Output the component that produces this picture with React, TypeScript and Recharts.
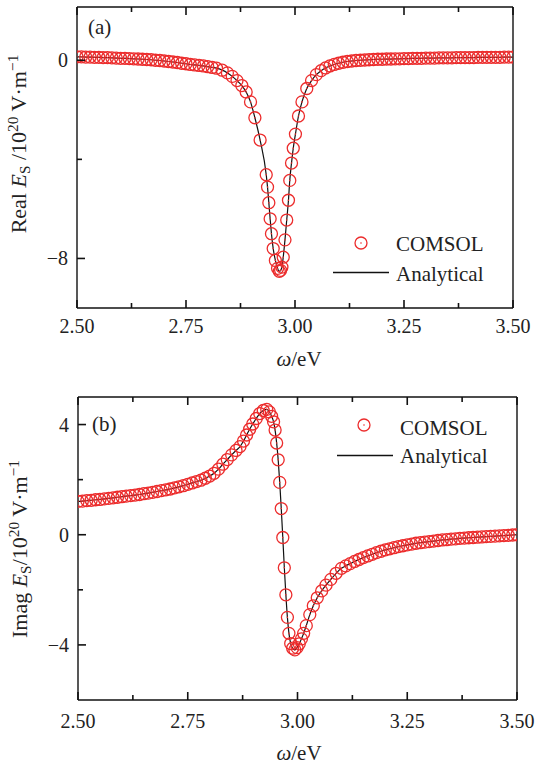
import React from "react";
import { ComposedChart, Line, Scatter, XAxis, YAxis } from "recharts";

// panel (a): real part
const omegaA = [
  2.5, 2.51, 2.52, 2.53, 2.54, 2.55, 2.56, 2.57, 2.58, 2.59, 2.6, 2.61, 2.62, 2.63, 2.64, 2.65, 2.66,
  2.67, 2.68, 2.69, 2.7, 2.71, 2.72, 2.73, 2.74, 2.75, 2.76, 2.77, 2.78, 2.79, 2.8, 2.81, 2.82,
  2.833, 2.845, 2.856, 2.867, 2.878, 2.888, 2.898, 2.908, 2.92, 2.934, 2.937, 2.94, 2.943, 2.946,
  2.95, 2.955, 2.96, 2.964, 2.967, 2.97, 2.973, 2.977, 2.981, 2.985, 2.988, 2.992, 2.996, 3.001,
  3.008, 3.016, 3.027, 3.038, 3.049, 3.06, 3.07, 3.08, 3.09, 3.1, 3.11, 3.12,
  3.13, 3.14, 3.15, 3.16, 3.17, 3.18, 3.19, 3.2, 3.21, 3.22, 3.23, 3.24, 3.25, 3.26, 3.27, 3.28,
  3.29, 3.3, 3.31, 3.32, 3.33, 3.34, 3.35, 3.36, 3.37, 3.38, 3.39, 3.4, 3.41, 3.42, 3.43, 3.44,
  3.45, 3.46, 3.47, 3.48, 3.49, 3.5,
];
const realA = [
  0.14, 0.14, 0.13, 0.13, 0.12, 0.12, 0.11, 0.11, 0.1, 0.09, 0.08, 0.08, 0.07, 0.06, 0.05, 0.04, 0.03,
  0.02, 0.0, -0.01, -0.03, -0.05, -0.07, -0.09, -0.12, -0.14, -0.17, -0.19, -0.21, -0.23, -0.26, -0.29, -0.32,
  -0.4, -0.51, -0.65, -0.82, -1.02, -1.28, -1.68, -2.32, -3.22, -4.62, -5.12, -5.75, -6.4, -7.0,
  -7.6, -8.08, -8.4, -8.52, -8.48, -8.35, -7.95, -7.25, -6.45, -5.65, -4.85, -4.15, -3.55, -2.98,
  -2.25, -1.68, -1.14, -0.82, -0.58, -0.42, -0.31, -0.23, -0.17, -0.12, -0.08, -0.05,
  -0.03, -0.01, 0.0, 0.01, 0.02, 0.03, 0.04, 0.04, 0.05, 0.05, 0.06, 0.06, 0.07, 0.07, 0.08, 0.08,
  0.08, 0.09, 0.09, 0.09, 0.1, 0.1, 0.1, 0.1, 0.11, 0.11, 0.11, 0.11, 0.11, 0.12, 0.12, 0.12,
  0.12, 0.12, 0.12, 0.13, 0.13, 0.13,
];

// panel (b): imaginary part
const omegaB = [
  2.5, 2.51, 2.52, 2.53, 2.54, 2.55, 2.56, 2.57, 2.58, 2.59, 2.6, 2.61, 2.62, 2.63, 2.64, 2.65, 2.66,
  2.67, 2.68, 2.69, 2.7, 2.71, 2.72, 2.73, 2.74, 2.75, 2.76, 2.77, 2.78,
  2.79, 2.8, 2.81, 2.82, 2.83, 2.84, 2.85, 2.86, 2.869, 2.877, 2.884, 2.891, 2.898, 2.906, 2.914,
  2.922, 2.93, 2.936, 2.941, 2.9455, 2.949, 2.9525, 2.956, 2.9595, 2.963, 2.9665, 2.97, 2.9735,
  2.977, 2.9805, 2.9845, 2.989, 2.994, 2.999, 3.004, 3.009, 3.014, 3.02, 3.028, 3.036, 3.045,
  3.055, 3.065, 3.076, 3.088,
  3.1, 3.11, 3.12, 3.13, 3.14, 3.15, 3.16, 3.17, 3.18, 3.19, 3.2, 3.21, 3.22, 3.23, 3.24, 3.25,
  3.26, 3.27, 3.28, 3.29, 3.3, 3.31, 3.32, 3.33, 3.34, 3.35, 3.36, 3.37, 3.38, 3.39, 3.4, 3.41,
  3.42, 3.43, 3.44, 3.45, 3.46, 3.47, 3.48, 3.49, 3.5,
];
const imagB = [
  1.21, 1.22, 1.24, 1.25, 1.27, 1.28, 1.3, 1.32, 1.34, 1.36, 1.38, 1.4, 1.42, 1.44, 1.46, 1.49, 1.51,
  1.54, 1.57, 1.6, 1.63, 1.66, 1.7, 1.74, 1.78, 1.83, 1.88, 1.93, 1.98,
  2.05, 2.13, 2.23, 2.38, 2.56, 2.73, 2.9, 3.06, 3.2, 3.4, 3.62, 3.83, 4.02, 4.22, 4.4,
  4.51, 4.55, 4.46, 4.3, 4.1, 3.8, 3.33, 2.72, 1.9, 0.95, -0.1, -1.2, -2.18,
  -3.0, -3.58, -3.95, -4.12, -4.18, -4.1, -3.96, -3.78, -3.58, -3.3, -2.9, -2.58, -2.29,
  -2.04, -1.83, -1.62, -1.4,
  -1.22, -1.13, -1.05, -0.97, -0.9, -0.83, -0.77, -0.71, -0.65, -0.6, -0.55, -0.51, -0.47, -0.43, -0.4, -0.37,
  -0.34, -0.31, -0.29, -0.27, -0.25, -0.23, -0.21, -0.19, -0.18, -0.16, -0.15, -0.13, -0.12, -0.11, -0.1, -0.09,
  -0.08, -0.07, -0.06, -0.05, -0.04, -0.03, -0.02, -0.01, 0.0,
];

const xTicks = [2.5, 2.625, 2.75, 2.875, 3, 3.125, 3.25, 3.375, 3.5];
const xLabels = [2.5, 2.75, 3, 3.25, 3.5];
const yTicksA = [-8, -4, 0];
const yLabelsA = [-8, 0];
const yTicksB = [-4, -2, 0, 2, 4];
const yLabelsB = [-4, 0, 4];

const dataA = omegaA.map((w, i) => ({ w, v: realA[i] }));
const dataB = omegaB.map((w, i) => ({ w, v: imagB[i] }));

const RED = "#ec2c2c";
const AXIS = "#111";
const TEXT = "#222";
const FONT = "'Liberation Serif', 'DejaVu Serif', serif";

const Ring = (p: any) => (
  <g>
    <circle cx={p.cx} cy={p.cy} r={6} fill="none" stroke={RED} strokeWidth={1.3} />
    <circle cx={p.cx} cy={p.cy} r={0.8} fill={RED} />
  </g>
);

const fmtY = (v: number) => (v < 0 ? "\u2212" + Math.abs(v) : String(v));

// ticks point into the plot, like the original
const bottomTick = (dy: number) => (p: any) => {
  const major = xLabels.includes(p.payload.value);
  return (
    <g>
      <line x1={p.x} y1={p.y} x2={p.x} y2={p.y - (major ? 8 : 5)} stroke={AXIS} strokeWidth={1.6} />
      {major && (
        <text x={p.x} y={p.y + dy} textAnchor="middle" fontSize={20} fontFamily={FONT} fill={TEXT}>
          {p.payload.value.toFixed(2)}
        </text>
      )}
    </g>
  );
};

const topTick = (p: any) => {
  const major = xLabels.includes(p.payload.value);
  return <line x1={p.x} y1={p.y} x2={p.x} y2={p.y + (major ? 8 : 5)} stroke={AXIS} strokeWidth={1.6} />;
};

const leftTick = (labels: number[]) => (p: any) => {
  const major = labels.includes(p.payload.value);
  return (
    <g>
      <line x1={p.x} y1={p.y} x2={p.x + (major ? 8 : 5)} y2={p.y} stroke={AXIS} strokeWidth={1.6} />
      {major && (
        <text x={p.x - 9} y={p.y + 7} textAnchor="end" fontSize={20} fontFamily={FONT} fill={TEXT}>
          {fmtY(p.payload.value)}
        </text>
      )}
    </g>
  );
};

const rightTick = (labels: number[]) => (p: any) => {
  const major = labels.includes(p.payload.value);
  return <line x1={p.x} y1={p.y} x2={p.x - (major ? 8 : 5)} y2={p.y} stroke={AXIS} strokeWidth={1.6} />;
};

const axisLine = { stroke: AXIS, strokeWidth: 1.4 };

function Panel(props: {
  data: { w: number; v: number }[];
  height: number;
  margin: { top: number; right: number; bottom: number; left: number };
  yDomain: [number, number];
  yTicks: number[];
  yLabels: number[];
  labelDy: number;
}) {
  const { data, height, margin, yDomain, yTicks, yLabels, labelDy } = props;
  return (
    <ComposedChart width={535} height={height} data={data} margin={margin}>
      <XAxis
        xAxisId="b"
        dataKey="w"
        type="number"
        domain={[2.5, 3.5]}
        ticks={xTicks}
        interval={0}
        height={1}
        tickSize={0}
        tickMargin={0}
        tickLine={false}
        axisLine={axisLine}
        tick={bottomTick(labelDy)}
        allowDataOverflow
      />
      <XAxis
        xAxisId="t"
        orientation="top"
        dataKey="w"
        type="number"
        domain={[2.5, 3.5]}
        ticks={xTicks}
        interval={0}
        height={1}
        tickSize={0}
        tickMargin={0}
        tickLine={false}
        axisLine={axisLine}
        tick={topTick}
      />
      <YAxis
        yAxisId="l"
        type="number"
        domain={yDomain}
        ticks={yTicks}
        interval={0}
        width={1}
        tickSize={0}
        tickMargin={0}
        tickLine={false}
        axisLine={axisLine}
        tick={leftTick(yLabels)}
        allowDataOverflow
      />
      <YAxis
        yAxisId="r"
        orientation="right"
        type="number"
        domain={yDomain}
        ticks={yTicks}
        interval={0}
        width={1}
        tickSize={0}
        tickMargin={0}
        tickLine={false}
        axisLine={axisLine}
        tick={rightTick(yLabels)}
      />
      <Line
        xAxisId="b"
        yAxisId="l"
        dataKey="v"
        type="monotone"
        stroke="#111"
        strokeWidth={1.2}
        dot={false}
        activeDot={false}
        isAnimationActive={false}
      />
      <Scatter xAxisId="b" yAxisId="l" dataKey="v" shape={Ring} isAnimationActive={false} />
    </ComposedChart>
  );
}

const txt = (left: number, top: number, content: React.ReactNode, size = 21) => (
  <div
    style={{
      position: "absolute",
      left,
      top,
      transform: "translateY(-50%)",
      lineHeight: 1,
      whiteSpace: "nowrap",
      fontSize: size,
    }}
  >
    {content}
  </div>
);

const center = (cx: number, cy: number, content: React.ReactNode, rotate = false, size = 21) => (
  <div
    style={{
      position: "absolute",
      left: cx,
      top: cy,
      transform: `translate(-50%, -50%)${rotate ? " rotate(-90deg)" : ""}`,
      lineHeight: 1,
      whiteSpace: "nowrap",
      fontSize: size,
    }}
  >
    {content}
  </div>
);

const sub = (s: string) => (
  <span style={{ fontSize: "0.7em", position: "relative", top: "0.25em" }}>{s}</span>
);
const sup = (s: string) => (
  <span style={{ fontSize: "0.7em", position: "relative", top: "-0.5em" }}>{s}</span>
);

const ringIcon = (
  <svg width={16} height={16} style={{ display: "block" }}>
    <circle cx={8} cy={8} r={6} fill="none" stroke={RED} strokeWidth={1.3} />
    <circle cx={8} cy={8} r={0.8} fill={RED} />
  </svg>
);
const lineIcon = (
  <svg width={56} height={3} style={{ display: "block" }}>
    <line x1={0} y1={1.5} x2={56} y2={1.5} stroke="#111" strokeWidth={1.3} />
  </svg>
);

export default function App() {
  return (
    <div
      style={{
        position: "absolute",
        left: 0,
        top: 0,
        width: 535,
        height: 765,
        fontFamily: FONT,
        color: TEXT,
        background: "#fff",
      }}
    >
      <div style={{ position: "absolute", left: 0, top: 0, width: 535, height: 370 }}>
        <Panel
          data={dataA}
          height={370}
          margin={{ top: 6, right: 21, bottom: 61, left: 76 }}
          yDomain={[-10, 2.15]}
          yTicks={yTicksA}
          yLabels={yLabelsA}
          labelDy={25}
        />
        {txt(88, 27, "(a)")}
        <div style={{ position: "absolute", left: 353, top: 235 }}>{ringIcon}</div>
        {txt(396, 244, "COMSOL")}
        <div style={{ position: "absolute", left: 333, top: 271 }}>{lineIcon}</div>
        {txt(396, 274, "Analytical")}
        {center(299, 359, <span><i>ω</i>/eV</span>)}
        {center(
          19,
          144,
          <span>
            Real <i>E</i>
            {sub("S")} /10{sup("20")} V·m{sup("\u22121")}
          </span>,
          true,
          22
        )}
      </div>
      <div style={{ position: "absolute", left: 0, top: 380, width: 535, height: 385 }}>
        <Panel
          data={dataB}
          height={385}
          margin={{ top: 16, right: 17, bottom: 64, left: 77 }}
          yDomain={[-6, 5]}
          yTicks={yTicksB}
          yLabels={yLabelsB}
          labelDy={28}
        />
        {txt(92, 44, "(b)")}
        <div style={{ position: "absolute", left: 356, top: 37 }}>{ringIcon}</div>
        {txt(400, 47.5, "COMSOL")}
        <div style={{ position: "absolute", left: 337, top: 73.5 }}>{lineIcon}</div>
        {txt(400, 76, "Analytical")}
        {center(299, 373, <span><i>ω</i>/eV</span>)}
        {center(
          20,
          169,
          <span>
            Imag <i>E</i>
            {sub("S")}/10{sup("20")} V·m{sup("\u22121")}
          </span>,
          true,
          22
        )}
      </div>
    </div>
  );
}
